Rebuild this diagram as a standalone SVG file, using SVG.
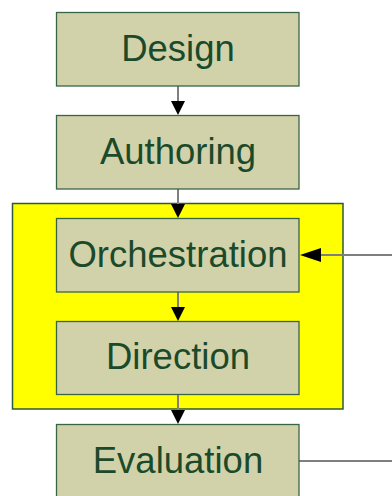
<svg xmlns="http://www.w3.org/2000/svg" width="392" height="496" viewBox="0 0 392 496">
<style>
.node rect{fill:#d2d2aa;stroke:#3a6446;stroke-width:1.3}
.node text{font-family:"Liberation Sans",Arial,sans-serif;font-size:36.5px;fill:#1b4a2b;text-anchor:middle}
.line{stroke:#7f7f7f;stroke-width:2;fill:none}
.head{fill:#000}
</style>
<rect width="392" height="496" fill="#fff"/>
<g id="group-box">
<rect x="12.5" y="203.5" width="330.5" height="205.5" fill="#ffff00" stroke="#2d5a3a" stroke-width="1.5"/>
</g>
<g id="connectors">
<line class="line" x1="178" y1="86" x2="178" y2="103"/>
<polygon class="head" points="171,101 185,101 178,115"/>
<line class="line" x1="178" y1="189" x2="178" y2="206"/>
<polygon class="head" points="171,204 185,204 178,218"/>
<line class="line" x1="178" y1="292" x2="178" y2="309" stroke="#6b6b2a"/>
<polygon class="head" points="171,307 185,307 178,321"/>
<line class="line" x1="178" y1="394" x2="178" y2="412"/>
<polygon class="head" points="171,410 185,410 178,424"/>
<line class="line" x1="392" y1="255" x2="318" y2="255"/>
<polygon class="head" points="321,248 321,262 300,255"/>
<line class="line" x1="299" y1="461" x2="392" y2="461"/>
</g>
<g id="design" class="node">
<rect x="56.5" y="12.5" width="242.5" height="73.5"/>
<text x="178" y="61">Design</text>
</g>
<g id="authoring" class="node">
<rect x="56.5" y="115.5" width="242.5" height="73.5"/>
<text x="178" y="164">Authoring</text>
</g>
<g id="orchestration" class="node">
<rect x="56.5" y="218.5" width="242.5" height="73.5"/>
<text x="178" y="267">Orchestration</text>
</g>
<g id="direction" class="node">
<rect x="56.5" y="321.5" width="242.5" height="73"/>
<text x="178" y="369">Direction</text>
</g>
<g id="evaluation" class="node">
<rect x="56.5" y="424.5" width="242.5" height="80"/>
<text x="178" y="473">Evaluation</text>
</g>
</svg>
